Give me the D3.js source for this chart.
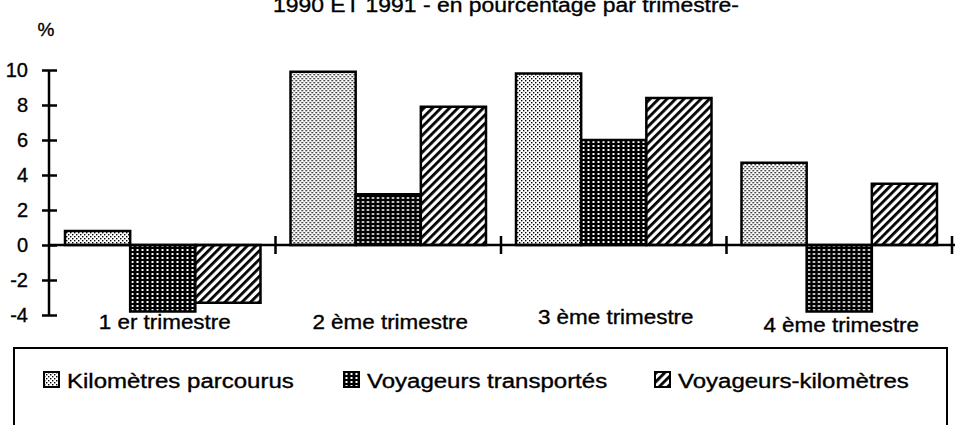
<!DOCTYPE html>
<html>
<head>
<meta charset="utf-8">
<title>Trimestres 1990 et 1991</title>
<script src="https://cdn.jsdelivr.net/npm/d3@7"></script>
<style>
  body { margin: 0; background: #fff; }
  text { font-family: "Liberation Sans", Arial, sans-serif; fill: #000; stroke: #000; stroke-width: 0.35px; }
</style>
</head>
<body>
<script>
// data
var quarters = ["1 er trimestre", "2 ème trimestre", "3 ème trimestre", "4 ème trimestre"];
var seriesNames = ["Kilomètres parcourus", "Voyageurs transportés", "Voyageurs-kilomètres"];
var kilometres = [0.8, 9.9, 9.8, 4.7];
var voyageurs = [-3.8, 2.9, 6.0, -3.8];
var voyKm = [-3.3, 7.9, 8.4, 3.5];
var yTicks = [-4, -2, 0, 2, 4, 6, 8, 10];
var title = "1990 ET 1991 - en pourcentage par trimestre-";

var w = 957, h = 425;
var labelShift = [0, 0, -5, 3]; // labels are not quite on one line in the original

var svg = d3.select("body").append("svg").attr("width", w).attr("height", h);

// the scanned type is wider than Liberation Sans, so stretch it a bit
function stretch(sel, f) {
  sel.each(function() {
    var L = this.getComputedTextLength();
    d3.select(this).attr("textLength", L * f).attr("lengthAdjust", "spacingAndGlyphs");
  });
}

// fill patterns
var defs = svg.append("defs");
var p1 = defs.append("pattern").attr("id", "pat0").attr("patternUnits", "userSpaceOnUse")
  .attr("width", 4).attr("height", 4);
p1.append("rect").attr("width", 4).attr("height", 4).attr("fill", "#fff");
p1.append("rect").attr("x", 0).attr("y", 0).attr("width", 1.4).attr("height", 1.4).attr("fill", "#000");
p1.append("rect").attr("x", 2).attr("y", 2).attr("width", 1.4).attr("height", 1.4).attr("fill", "#000");

var p2 = defs.append("pattern").attr("id", "pat1").attr("patternUnits", "userSpaceOnUse")
  .attr("width", 5).attr("height", 4);
p2.append("rect").attr("width", 5).attr("height", 4).attr("fill", "#000");
p2.append("rect").attr("x", 1.5).attr("y", 1).attr("width", 2).attr("height", 2).attr("fill", "#fff");

var p3 = defs.append("pattern").attr("id", "pat2").attr("patternUnits", "userSpaceOnUse")
  .attr("width", 6).attr("height", 6).attr("patternTransform", "rotate(45)");
p3.append("rect").attr("width", 6).attr("height", 6).attr("fill", "#fff");
p3.append("rect").attr("x", 0).attr("width", 2.8).attr("height", 6).attr("fill", "#000");

// scales
var x = d3.scaleBand().domain(quarters).range([50, 952]);
var xs = d3.scaleBand().domain(seriesNames).range([15, x.bandwidth() - 15]);
var y = d3.scaleLinear().domain([-4, 10]).range([315, 70]);

// title (cut at the top in the scan)
svg.append("text").attr("x", 506).attr("y", 12).attr("text-anchor", "middle")
  .attr("font-size", "20px").attr("textLength", 466).attr("lengthAdjust", "spacingAndGlyphs")
  .text(title);

svg.append("text").attr("x", 46).attr("y", 36).attr("text-anchor", "middle")
  .attr("font-size", "19px").text("%");

// y axis
var yAxis = svg.append("g").attr("transform", "translate(49,0)")
  .call(d3.axisLeft(y).tickValues(yTicks).tickSize(7).tickPadding(14)
    .tickFormat(function(d) { return String(d); }));
yAxis.select(".domain").attr("stroke-width", 2.5).attr("d", "M0," + y(10) + "V" + y(-4));
yAxis.selectAll(".tick line").attr("x1", 8).attr("stroke-width", 2.5);
yAxis.selectAll(".tick text").attr("font-size", "20px")
  .attr("font-family", "Liberation Sans, Arial, sans-serif");

// bars
var rows = [kilometres, voyageurs, voyKm];
var groups = svg.selectAll("g.q").data(quarters).enter().append("g")
  .attr("class", "q").attr("transform", function(d) { return "translate(" + x(d) + ",0)"; });

groups.selectAll("rect").data(function(d, i) {
    return seriesNames.map(function(s, j) { return {s: s, j: j, v: rows[j][i]}; });
  }).enter().append("rect")
  .attr("x", function(d) { return xs(d.s); })
  .attr("y", function(d) { return Math.min(y(0), y(d.v)); })
  .attr("width", xs.bandwidth())
  .attr("height", function(d) { return Math.abs(y(d.v) - y(0)); })
  .attr("fill", function(d) { return "url(#pat" + d.j + ")"; })
  .attr("stroke", "#000").attr("stroke-width", 2.5);

// x axis: zero line + category separators
svg.append("line").attr("x1", 49).attr("x2", 955).attr("y1", y(0)).attr("y2", y(0))
  .attr("stroke", "#000").attr("stroke-width", 2.5);
svg.selectAll("line.sep").data(quarters).enter().append("line").attr("class", "sep")
  .attr("x1", function(d) { return x(d) + x.bandwidth(); })
  .attr("x2", function(d) { return x(d) + x.bandwidth(); })
  .attr("y1", y(0) - 9).attr("y2", y(0) + 9)
  .attr("stroke", "#000").attr("stroke-width", 2.5);

svg.selectAll("text.cat").data(quarters).enter().append("text").attr("class", "cat")
  .attr("x", function(d) { return x(d) + x.bandwidth() / 2 + 2; })
  .attr("y", function(d, i) { return 329 + labelShift[i]; })
  .attr("text-anchor", "middle").attr("font-size", "20px")
  .text(function(d) { return d; })
  .call(stretch, 1.12);

// legend box
svg.append("rect").attr("x", 14).attr("y", 348).attr("width", 933).attr("height", 90)
  .attr("fill", "none").attr("stroke", "#000").attr("stroke-width", 2);

var legX = [44, 344, 655];
var leg = svg.selectAll("g.leg").data(seriesNames).enter().append("g").attr("class", "leg")
  .attr("transform", function(d, i) { return "translate(" + legX[i] + ",372)"; });
leg.append("rect").attr("width", 15).attr("height", 15)
  .attr("fill", function(d, i) { return "url(#pat" + i + ")"; })
  .attr("stroke", "#000").attr("stroke-width", 2);
leg.append("text").attr("x", 23).attr("y", 16).attr("font-size", "20px")
  .text(function(d) { return d; })
  .call(stretch, 1.2);
</script>
</body>
</html>
